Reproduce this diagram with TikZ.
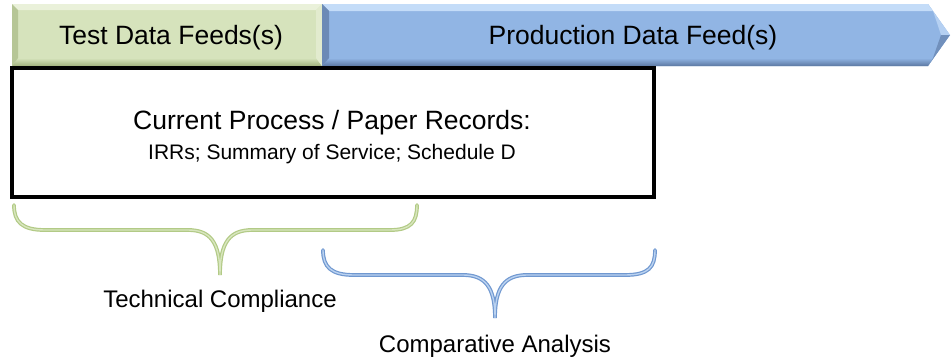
\documentclass[tikz,border=0pt]{standalone}
\usepackage{fontspec}
\setmainfont{Liberation Sans}
\usetikzlibrary{positioning}

\definecolor{testgreen}{RGB}{214,227,188}
\definecolor{testgreenlt}{RGB}{234,241,218}
\definecolor{testgreendk}{RGB}{160,178,124}
\definecolor{prodblue}{RGB}{145,181,228}
\definecolor{prodbluelt}{RGB}{196,220,248}
\definecolor{prodbluedk}{RGB}{92,120,162}
\definecolor{bracegreen}{RGB}{178,202,134}
\definecolor{bracegreenlt}{RGB}{216,230,190}
\definecolor{braceblue}{RGB}{112,152,208}
\definecolor{bracebluelt}{RGB}{186,210,240}

\begin{document}
\begin{tikzpicture}[x=1pt,y=-1pt,
    feedtext/.style={font=\fontsize{26.5}{30}\selectfont, inner sep=0pt},
    subtext/.style={font=\fontsize{21}{25}\selectfont, inner sep=0pt},
    bracetext/.style={font=\fontsize{24}{28}\selectfont, inner sep=0pt},
    greenbrace/.style={line width=3.8pt, bracegreen, line cap=round},
    bluebrace/.style={line width=3.8pt, braceblue, line cap=round}]
    \useasboundingbox (0,0) rectangle (951,362);

    % green test bar
    \fill[testgreen] (12,4) rectangle (322,66);
    \fill[testgreenlt] (12,4) -- (322,4) -- (316,10) -- (18,10) -- cycle;
    \shade[top color=testgreen, bottom color=testgreendk] (18,58) -- (316,58) -- (322,66) -- (12,66) -- cycle;
    \fill[testgreendk!60!testgreen] (12,4) -- (18,10) -- (18,58) -- (12,66) -- cycle;
    \fill[testgreenlt!60!testgreen] (322,4) -- (316,10) -- (316,58) -- (322,66) -- cycle;

    % blue production arrow
    \fill[prodblue] (322,4) -- (928,4) -- (950,35) -- (928,66) -- (322,66) -- cycle;
    \fill[prodbluelt] (322,4) -- (928,4) -- (933,11) -- (329,11) -- cycle;
    \shade[top color=prodblue, bottom color=prodbluedk] (329,58) -- (933,58) -- (928,66) -- (322,66) -- cycle;
    \fill[prodbluedk!70!prodblue] (322,4) -- (329,11) -- (329,58) -- (322,66) -- cycle;
    \fill[prodbluelt!70!prodblue] (928,4) -- (950,35) -- (941,35) -- (933,11) -- cycle;
    \fill[prodbluedk!60!prodblue] (950,35) -- (928,66) -- (933,58) -- (941,35) -- cycle;

    \node[feedtext] (test) at (171,38) {Test Data Feeds(s)};
    \node[feedtext] (prod) at (633,38) {Production Data Feed(s)};

    % records box
    \node[draw, line width=4pt, minimum width=642pt, minimum height=129pt, inner sep=0pt] (records) at (333,132.5) {};
    \node[feedtext] (title) at (332,123) {Current Process / Paper Records:};
    \node[subtext] (detail) [below=9pt of title] {IRRs; Summary of Service; Schedule D};

    % braces
    \coordinate (gtip) at (220,275);
    \coordinate (btip) at (495,318);
    \foreach \w/\c in {3.8pt/bracegreen,1.4pt/bracegreenlt}
        \draw[greenbrace, line width=\w, \c] (14,205) .. controls (14,222) and (22,230) .. (45,230) -- (188,230)
            .. controls (210,230) and (220,242) .. (gtip)
            .. controls (220,242) and (230,230) .. (252,230) -- (390,230)
            .. controls (411,230) and (417,222) .. (417,205);
    \foreach \w/\c in {3.8pt/braceblue,1.4pt/bracebluelt}
        \draw[bluebrace, line width=\w, \c] (323,250) .. controls (323,267) and (331,275) .. (354,275) -- (463,275)
            .. controls (485,275) and (495,287) .. (btip)
            .. controls (495,287) and (505,275) .. (527,275) -- (625,275)
            .. controls (649,275) and (655,267) .. (655,250);

    \node[bracetext, anchor=north] (tech) [below=15pt of gtip] {Technical Compliance};
    \node[bracetext, anchor=north] (comp) [below=17pt of btip] {Comparative Analysis};
\end{tikzpicture}
\end{document}
